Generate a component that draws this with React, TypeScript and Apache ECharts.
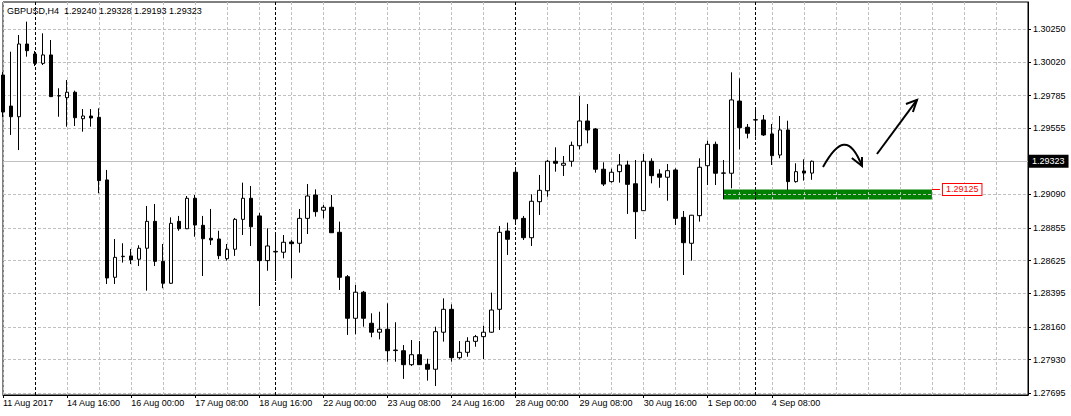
import React, { useEffect, useRef } from 'react';
import * as echarts from 'echarts';

const FONT = "'Liberation Sans', Arial, sans-serif";

const chartTitle = 'GBPUSD,H4  1.29240 1.29328 1.29193 1.29323';

// H4 bars: [open, high, low, close]
const ohlc: [number, number, number, number][] = [
  [1.29929, 1.2995, 1.29634, 1.29669],
  [1.29711, 1.30093, 1.29508, 1.29636],
  [1.29636, 1.3021, 1.29402, 1.30147],
  [1.30147, 1.30304, 1.30058, 1.301],
  [1.30077, 1.30098, 1.29992, 1.30011],
  [1.30011, 1.30222, 1.29999, 1.3007],
  [1.3007, 1.30175, 1.29775, 1.29777],
  [1.29782, 1.29836, 1.29636, 1.29784],
  [1.2977, 1.29894, 1.29566, 1.29808],
  [1.29808, 1.29819, 1.29571, 1.29629],
  [1.29622, 1.2969, 1.29531, 1.29641],
  [1.29641, 1.2969, 1.29566, 1.29627],
  [1.29632, 1.29695, 1.29098, 1.29187],
  [1.29192, 1.29262, 1.28461, 1.28503],
  [1.28508, 1.28777, 1.28461, 1.28648],
  [1.28653, 1.28747, 1.28611, 1.28656],
  [1.28658, 1.28707, 1.28601, 1.2863],
  [1.28635, 1.28733, 1.28587, 1.28712],
  [1.28712, 1.29009, 1.28414, 1.28901],
  [1.28901, 1.29023, 1.28587, 1.2862],
  [1.2862, 1.28742, 1.28431, 1.28466],
  [1.28466, 1.28929, 1.28461, 1.28887],
  [1.28901, 1.28939, 1.28835, 1.28849],
  [1.28849, 1.29079, 1.28847, 1.29063],
  [1.29063, 1.29086, 1.28793, 1.28875],
  [1.28873, 1.28939, 1.28517, 1.28779],
  [1.28782, 1.28988, 1.28735, 1.2877],
  [1.28777, 1.28835, 1.28635, 1.2866],
  [1.28639, 1.28742, 1.28625, 1.28705],
  [1.28705, 1.28925, 1.28658, 1.28915],
  [1.28915, 1.29173, 1.28805, 1.29063],
  [1.29063, 1.29149, 1.28728, 1.28863],
  [1.28939, 1.2896, 1.28306, 1.28625],
  [1.28625, 1.28852, 1.28554, 1.28728],
  [1.28686, 1.2881, 1.28482, 1.2869],
  [1.28684, 1.28805, 1.28641, 1.28754],
  [1.28756, 1.2877, 1.28501, 1.28744],
  [1.28747, 1.28988, 1.28681, 1.28922],
  [1.28922, 1.29163, 1.28812, 1.29079],
  [1.29086, 1.29126, 1.28934, 1.28969],
  [1.28979, 1.29016, 1.28922, 1.29],
  [1.29, 1.29086, 1.28819, 1.28821],
  [1.28824, 1.28899, 1.28419, 1.28508],
  [1.28512, 1.28524, 1.28103, 1.2822],
  [1.2822, 1.28454, 1.28108, 1.28403],
  [1.28403, 1.28412, 1.28161, 1.2822],
  [1.28185, 1.28255, 1.28087, 1.28122],
  [1.28122, 1.28266, 1.28072, 1.28143],
  [1.28143, 1.28325, 1.27915, 1.27992],
  [1.27993, 1.28192, 1.27915, 1.27997],
  [1.27992, 1.28032, 1.27794, 1.27894],
  [1.27894, 1.28067, 1.27885, 1.27964],
  [1.27964, 1.2806, 1.27892, 1.27894],
  [1.27897, 1.27936, 1.27782, 1.27862],
  [1.27862, 1.28161, 1.27744, 1.28126],
  [1.28122, 1.2836, 1.28056, 1.28283],
  [1.28283, 1.28318, 1.27915, 1.27943],
  [1.27943, 1.2806, 1.27932, 1.27981],
  [1.27981, 1.28087, 1.2795, 1.28058],
  [1.28058, 1.28103, 1.2802, 1.28091],
  [1.28091, 1.28168, 1.27934, 1.28122],
  [1.28122, 1.284, 1.28117, 1.28278],
  [1.28283, 1.28868, 1.28138, 1.28824],
  [1.28833, 1.28892, 1.28665, 1.28775],
  [1.29246, 1.29262, 1.28896, 1.28918],
  [1.28922, 1.28939, 1.2877, 1.28786],
  [1.28786, 1.29091, 1.28728, 1.29042],
  [1.29039, 1.29227, 1.28946, 1.29119],
  [1.29116, 1.29332, 1.29074, 1.29323],
  [1.29323, 1.29421, 1.2925, 1.29309],
  [1.29295, 1.2936, 1.2922, 1.29309],
  [1.29323, 1.29461, 1.29285, 1.29435],
  [1.29432, 1.29782, 1.29407, 1.29606],
  [1.29606, 1.29725, 1.29449, 1.29543],
  [1.2955, 1.29557, 1.29243, 1.29267],
  [1.29267, 1.29316, 1.29149, 1.29163],
  [1.2918, 1.29271, 1.29173, 1.29246],
  [1.2925, 1.29374, 1.29173, 1.29297],
  [1.29297, 1.29327, 1.28953, 1.29161],
  [1.29165, 1.29332, 1.28777, 1.28969],
  [1.28976, 1.29374, 1.28974, 1.29323],
  [1.29323, 1.29344, 1.29168, 1.29222],
  [1.29234, 1.29267, 1.29137, 1.29211],
  [1.29211, 1.29304, 1.29046, 1.29257],
  [1.29262, 1.29274, 1.28875, 1.28922],
  [1.28929, 1.28974, 1.28524, 1.28751],
  [1.28747, 1.28946, 1.28625, 1.28944],
  [1.28941, 1.29344, 1.28899, 1.29281],
  [1.29292, 1.29468, 1.29156, 1.29442],
  [1.29442, 1.29461, 1.29156, 1.29239],
  [1.29239, 1.29332, 1.29056, 1.29241],
  [1.29239, 1.29948, 1.29133, 1.29754],
  [1.29746, 1.29906, 1.29407, 1.29559],
  [1.29562, 1.29585, 1.29484, 1.2952],
  [1.29613, 1.29683, 1.29496, 1.29615],
  [1.29613, 1.29648, 1.29501, 1.29508],
  [1.29515, 1.29585, 1.29297, 1.29362],
  [1.29367, 1.29641, 1.29344, 1.29543],
  [1.29543, 1.29608, 1.29121, 1.2918],
  [1.2918, 1.29309, 1.29173, 1.2925],
  [1.29255, 1.29337, 1.29187, 1.2924],
  [1.2924, 1.29328, 1.29193, 1.29323],
];

const barSlots = 129; // visible bar slots including chart shift
const firstBarUtc = Date.UTC(2017, 7, 11, 8);
const months = ['Jan', 'Feb', 'Mar', 'Apr', 'May', 'Jun', 'Jul', 'Aug', 'Sep', 'Oct', 'Nov', 'Dec'];

const xTickLabels = [
  '11 Aug 2017', '14 Aug 16:00', '16 Aug 00:00', '17 Aug 08:00', '18 Aug 16:00',
  '22 Aug 00:00', '23 Aug 08:00', '24 Aug 16:00', '28 Aug 00:00', '29 Aug 08:00',
  '30 Aug 16:00', '1 Sep 00:00', '4 Sep 08:00',
];
const xTickStep = 8;
const xGridStep = 4;

const yTickValues = [1.27695, 1.2793, 1.2816, 1.28395, 1.28625, 1.28855, 1.2909, 1.29323, 1.29555, 1.29785, 1.3002, 1.3025];
const yLabelValues = [1.27695, 1.2793, 1.2816, 1.28395, 1.28625, 1.28855, 1.2909, 1.29555, 1.29785, 1.3002, 1.3025];
const yMin = 1.27681;
const yMax = 1.30442;

const weekStarts = [4, 34, 64, 94];
const currentPrice = 1.29323;
const zoneFrom = 90;
const zoneTo = 116;
const zoneTop = 1.29125;
const zoneBottom = 1.29055;

// hand-drawn arrows, in [bar index, price]
const curvedArrow: [number, number][] = [[102.4, 1.29283], [104.27, 1.29473], [105.77, 1.29508], [107.27, 1.2929]];
const curvedArrowHead: [number, number][] = [[106.0, 1.29346], [107.27, 1.2929], [107.27, 1.29353]];
const straightArrow: [number, number][] = [[109.14, 1.29374], [114.14, 1.29754]];
const straightArrowHead: [number, number][] = [[112.76, 1.29725], [114.14, 1.29754], [113.63, 1.29669]];

function buildCategories(): string[] {
  const out: string[] = [];
  let t = firstBarUtc;
  while (out.length < barSlots) {
    const d = new Date(t);
    const day = d.getUTCDay();
    if (day !== 0 && day !== 6) {
      const hh = String(d.getUTCHours()).padStart(2, '0');
      out.push(`${d.getUTCDate()} ${months[d.getUTCMonth()]} ${hh}:00`);
    }
    t += 4 * 3600 * 1000;
  }
  return out;
}

export default function App() {
  const ref = useRef<HTMLDivElement>(null);

  useEffect(() => {
    document.body.style.margin = '0';
    if (!ref.current) return;
    const chart = echarts.init(ref.current, undefined, { renderer: 'svg' });
    const categories = buildCategories();
    const tickShown = (i: number) => i % xTickStep === 0 && i / xTickStep < xTickLabels.length;

    chart.setOption({
      animation: false,
      backgroundColor: '#fff',
      textStyle: { fontFamily: FONT },
      title: {
        text: chartTitle,
        left: 7,
        top: 6,
        padding: 0,
        textStyle: { fontSize: 9, fontWeight: 'normal', color: '#000', fontFamily: FONT },
      },
      grid: {
        left: 3,
        top: 2,
        width: 1025,
        height: 393,
        show: true,
        borderColor: '#000',
        borderWidth: 1,
        backgroundColor: '#fff',
        outerBoundsMode: 'none',
      },
      xAxis: {
        type: 'category',
        data: categories,
        boundaryGap: false,
        z: 1.5,
        axisLine: { show: true, lineStyle: { color: '#000', width: 1 } },
        axisTick: { show: true, length: 3, interval: (i: number) => tickShown(i), lineStyle: { color: '#000' } },
        axisLabel: {
          interval: (i: number) => tickShown(i),
          formatter: (v: string) => {
            const i = categories.indexOf(v);
            return tickShown(i) ? xTickLabels[i / xTickStep] : '';
          },
          align: 'left',
          margin: 3,
          fontSize: 9,
          color: '#000',
          fontFamily: FONT,
        },
        splitLine: {
          show: true,
          interval: (i: number) => i % xGridStep === 0,
          lineStyle: { color: '#c0c0c0', type: [3, 2], width: 1 },
        },
      },
      yAxis: {
        type: 'value',
        position: 'right',
        min: yMin,
        max: yMax,
        z: 1.5,
        axisLine: { show: true, lineStyle: { color: '#000', width: 1 } },
        axisTick: { show: true, length: 3, customValues: yTickValues, lineStyle: { color: '#000' } },
        axisLabel: {
          customValues: yLabelValues,
          formatter: (v: number) => v.toFixed(5),
          margin: 5,
          fontSize: 9,
          color: '#000',
          fontFamily: FONT,
        },
        splitLine: { show: true, lineStyle: { color: '#c0c0c0', type: [3, 2], width: 1 } },
      },
      series: [
        {
          type: 'candlestick',
          data: ohlc.map(([o, h, l, c]) => [o, c, l, h]),
          barWidth: 4,
          itemStyle: {
            color: '#fff',
            color0: '#000',
            borderColor: '#000',
            borderColor0: '#000',
            borderColorDoji: '#000',
            borderWidth: 1,
          },
          markArea: {
            silent: true,
            z: 1,
            itemStyle: { color: '#008000', opacity: 1, borderWidth: 0 },
            label: { show: false },
            data: [[{ coord: [zoneFrom, zoneTop] }, { coord: [zoneTo, zoneBottom] }]],
          },
          markLine: {
            silent: true,
            z: 1.6,
            precision: 5,
            symbol: ['none', 'none'],
            label: { show: false },
            data: [
              ...weekStarts.map((i) => ({
                xAxis: i,
                lineStyle: { color: '#000', type: [3, 2], width: 1 },
              })),
              {
                yAxis: currentPrice,
                lineStyle: { color: '#c0c0c0', type: 'solid', width: 1 },
                label: {
                  show: true,
                  position: 'end',
                  formatter: currentPrice.toFixed(5),
                  backgroundColor: '#000',
                  color: '#fff',
                  padding: [2, 4, 2, 3],
                  distance: 1,
                  fontSize: 9,
                  fontFamily: FONT,
                },
              },
              [
                {
                  coord: [zoneTo, zoneTop],
                  lineStyle: { color: '#ff0000', type: 'solid', width: 1 },
                  label: {
                    show: true,
                    position: 'end',
                    formatter: zoneTop.toFixed(5),
                    color: '#ff0000',
                    backgroundColor: '#fff',
                    borderColor: '#ff0000',
                    borderWidth: 1,
                    padding: [1, 3, 1, 3],
                    distance: 3,
                    fontSize: 9,
                    fontFamily: FONT,
                  },
                },
                { coord: [zoneTo + 1, zoneTop] },
              ],
            ],
          },
        },
      ],
    });

    const toPx = ([idx, price]: [number, number]): number[] => {
      const i0 = Math.floor(idx);
      const a = chart.convertToPixel({ gridIndex: 0 }, [i0, price]) as number[];
      const b = chart.convertToPixel({ gridIndex: 0 }, [i0 + 1, price]) as number[];
      return [a[0] + (idx - i0) * (b[0] - a[0]), a[1]];
    };
    const c = curvedArrow.map(toPx);
    const s = straightArrow.map(toPx);
    const arrowStyle = { stroke: '#000', lineWidth: 2, fill: null };
    chart.setOption({
      graphic: [
        {
          type: 'bezierCurve',
          z: 10,
          shape: { x1: c[0][0], y1: c[0][1], cpx1: c[1][0], cpy1: c[1][1], cpx2: c[2][0], cpy2: c[2][1], x2: c[3][0], y2: c[3][1] },
          style: arrowStyle,
        },
        { type: 'polyline', z: 10, shape: { points: curvedArrowHead.map(toPx) }, style: arrowStyle },
        { type: 'line', z: 10, shape: { x1: s[0][0], y1: s[0][1], x2: s[1][0], y2: s[1][1] }, style: arrowStyle },
        { type: 'polyline', z: 10, shape: { points: straightArrowHead.map(toPx) }, style: arrowStyle },
      ],
    });

    return () => chart.dispose();
  }, []);

  return <div ref={ref} style={{ position: 'fixed', left: 0, top: 0, width: 1071, height: 416 }} />;
}
